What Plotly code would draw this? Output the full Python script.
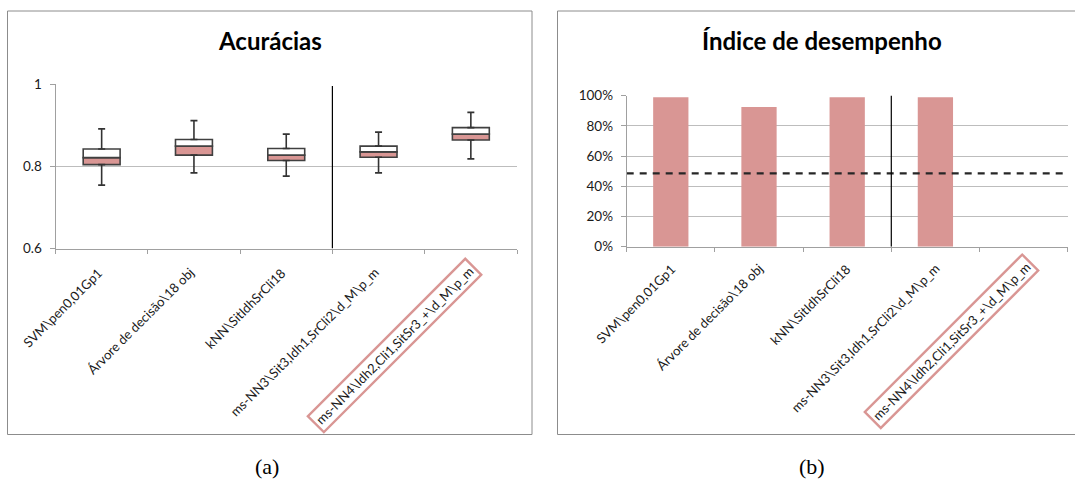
import plotly.graph_objects as go

# Model configurations compared in both panels
categories = [
    "SVM\\pen0,01Gp1",
    "Árvore de decisão\\18 obj",
    "kNN\\SitIdhSrCli18",
    "ms-NN3\\Sit3,Idh1,SrCli2\\d_M\\p_m",
    "ms-NN4\\Idh2,Cli1,SitSr3_+\\d_M\\p_m",
]
highlighted = 4  # index of the selected model

# Accuracy distribution (box statistics)
acc_min = [0.754, 0.784, 0.776, 0.784, 0.818]
acc_q1 = [0.804, 0.827, 0.814, 0.822, 0.864]
acc_median = [0.821, 0.849, 0.827, 0.835, 0.878]
acc_q3 = [0.842, 0.865, 0.843, 0.849, 0.894]
acc_max = [0.891, 0.911, 0.878, 0.883, 0.931]

# Performance index per model and reference level
performance = [0.99, 0.925, 0.99, 0.99, 0.0]
reference_level = 0.485

acc_ticks = [0.6, 0.8, 1.0]
acc_ticktext = ["0.6", "0.8", "1"]
perf_ticks = [0, 0.2, 0.4, 0.6, 0.8, 1.0]

W, H = 1075, 481
PINK = "#D99694"
EDGE = "#404040"
GRID = "#BDBDBD"
LABEL_FONT = "Lato"

xpos = list(range(len(categories)))


def px_x(p):
    return p / W


def px_y(p):
    return 1 - p / H


fig = go.Figure()

# Box plot built from stacked bars: lower half pink, upper half white
fig.add_trace(go.Bar(
    x=xpos, base=acc_q1,
    y=[m - q for m, q in zip(acc_median, acc_q1)],
    width=0.4, marker=dict(color=PINK, line=dict(color=EDGE, width=1.6)),
    xaxis="x", yaxis="y", showlegend=False, hoverinfo="skip",
))
fig.add_trace(go.Bar(
    x=xpos, base=acc_median,
    y=[q - m for q, m in zip(acc_q3, acc_median)],
    width=0.4, marker=dict(color="white", line=dict(color=EDGE, width=1.6)),
    xaxis="x", yaxis="y", showlegend=False, hoverinfo="skip",
))
# Whiskers
fig.add_trace(go.Scatter(
    x=xpos, y=acc_q3, mode="markers",
    marker=dict(size=1, color="rgba(0,0,0,0)"),
    error_y=dict(type="data", symmetric=False,
                 array=[mx - q for mx, q in zip(acc_max, acc_q3)],
                 arrayminus=[0] * len(xpos),
                 color="#333333", thickness=1.6, width=3.5),
    xaxis="x", yaxis="y", showlegend=False, hoverinfo="skip",
))
fig.add_trace(go.Scatter(
    x=xpos, y=acc_q1, mode="markers",
    marker=dict(size=1, color="rgba(0,0,0,0)"),
    error_y=dict(type="data", symmetric=False,
                 array=[0] * len(xpos),
                 arrayminus=[q - mn for q, mn in zip(acc_q1, acc_min)],
                 color="#333333", thickness=1.6, width=3.5),
    xaxis="x", yaxis="y", showlegend=False, hoverinfo="skip",
))

# Performance index bars
fig.add_trace(go.Bar(
    x=xpos, y=performance, width=0.4,
    marker=dict(color=PINK, line=dict(width=0)),
    xaxis="x2", yaxis="y2", showlegend=False, hoverinfo="skip",
))
fig.add_trace(go.Scatter(
    x=[-0.5, len(categories) - 0.5], y=[reference_level] * 2,
    mode="lines", line=dict(color="#262626", width=2.3, dash="7px,6px"),
    xaxis="x2", yaxis="y2", showlegend=False, hoverinfo="skip",
))

boundaries = [i - 0.5 for i in range(len(categories) + 1)]
xaxis_common = dict(
    range=[-0.5, len(categories) - 0.5], tickvals=boundaries,
    ticktext=[""] * len(boundaries), ticks="outside", ticklen=4,
    tickcolor="#A0A0A0", showgrid=False, zeroline=False, automargin=False,
    showline=True, linecolor="#A0A0A0", linewidth=1, fixedrange=True,
)
yaxis_common = dict(
    ticks="outside", ticklen=5, tickcolor="#A0A0A0", automargin=False,
    showgrid=True, gridcolor=GRID, gridwidth=1, zeroline=False,
    showline=True, linecolor="#A0A0A0", linewidth=1,
    tickfont=dict(family=LABEL_FONT, size=13.5, color="#1a1a1a"),
    ticklabelstandoff=5, fixedrange=True,
)

fig.update_layout(
    template="none",
    width=W, height=H,
    margin=dict(l=0, r=0, t=0, b=0, pad=0, autoexpand=False),
    paper_bgcolor="white", plot_bgcolor="white",
    barmode="overlay", showlegend=False,
    xaxis=dict(domain=[px_x(55.5), px_x(517)], anchor="y", **xaxis_common),
    yaxis=dict(domain=[px_y(248.5), px_y(84)], anchor="x",
               range=[0.6, 1.0], tickvals=acc_ticks, ticktext=acc_ticktext,
               **yaxis_common),
    xaxis2=dict(domain=[px_x(626.7), px_x(1067.7)], anchor="y2", **xaxis_common),
    yaxis2=dict(domain=[px_y(246.7), px_y(95.7)], anchor="x2",
                range=[0, 1.0], tickvals=perf_ticks, tickformat=".0%",
                **yaxis_common),
)

shapes = [
    # panel frames
    dict(type="rect", xref="paper", yref="paper",
         x0=px_x(7.5), x1=px_x(532), y0=px_y(434.5), y1=px_y(11),
         line=dict(color="#8C8C8C", width=1)),
    dict(type="rect", xref="paper", yref="paper",
         x0=px_x(557.5), x1=px_x(1090), y0=px_y(434.5), y1=px_y(11),
         line=dict(color="#8C8C8C", width=1)),
    # separators between baseline models and the ms-NN models
    dict(type="line", xref="x", yref="y", x0=2.5, x1=2.5, y0=0.6, y1=0.995,
         line=dict(color="black", width=1.2)),
    dict(type="line", xref="x2", yref="y2", x0=2.5, x1=2.5, y0=0.0, y1=1.01,
         line=dict(color="black", width=1.2)),
]

annotations = [
    dict(text="<b>Acurácias</b>", xref="paper", yref="paper",
         x=px_x(270), y=px_y(41), xanchor="center", yanchor="middle",
         showarrow=False, font=dict(family=LABEL_FONT, size=24, color="black")),
    dict(text="<b>Índice de desempenho</b>", xref="paper", yref="paper",
         x=px_x(822), y=px_y(41), xanchor="center", yanchor="middle",
         showarrow=False, font=dict(family=LABEL_FONT, size=24, color="black")),
    dict(text="(a)", xref="paper", yref="paper",
         x=px_x(267), y=px_y(466), xanchor="center", yanchor="middle",
         showarrow=False, font=dict(family="Liberation Serif", size=22, color="black")),
    dict(text="(b)", xref="paper", yref="paper",
         x=px_x(812), y=px_y(466), xanchor="center", yanchor="middle",
         showarrow=False, font=dict(family="Liberation Serif", size=22, color="black")),
]

# Rotated category labels for both panels
for xa, top, shift in (("x", 262, 6), ("x2", 258, 10)):
    for i, name in enumerate(categories):
        ann = dict(text=name, xref=xa, yref="paper", x=i, y=px_y(top),
                   xanchor="right", yanchor="top", textangle=-45,
                   xshift=shift, showarrow=False,
                   font=dict(family=LABEL_FONT, size=13, color="#1a1a1a"))
        if i == highlighted:
            ann.update(bordercolor=PINK, borderwidth=2.4, borderpad=2,
                       bgcolor="white", y=px_y(top - 5), xshift=shift + 6)
        annotations.append(ann)

fig.update_layout(shapes=shapes, annotations=annotations)

fig.write_html("out.html")
